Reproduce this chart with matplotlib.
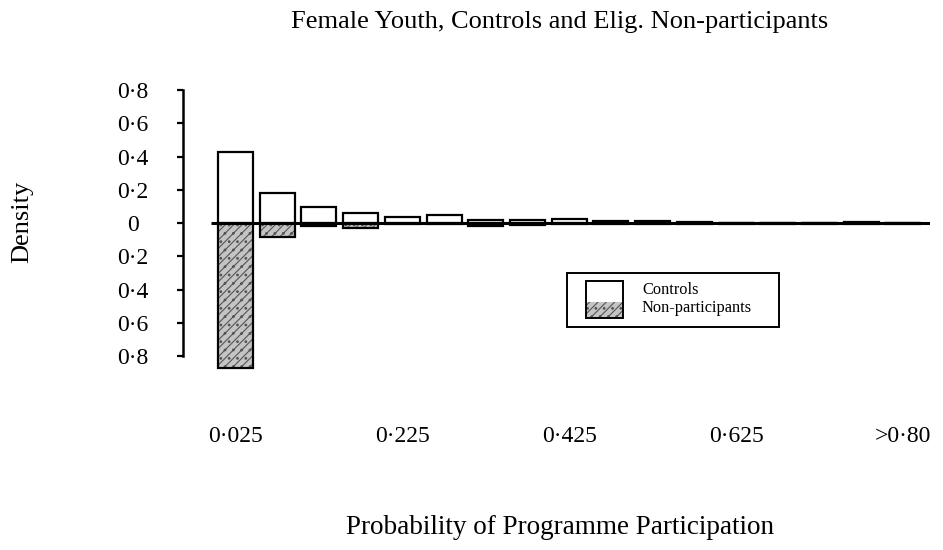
import matplotlib
matplotlib.use("Agg")
import matplotlib.pyplot as plt
import matplotlib.transforms as mtransforms
from matplotlib.patches import Rectangle
import numpy as np

# ---- data ----
bins = np.arange(17)  # 0.025, 0.075, ..., 0.775, >0.80
controls = [0.43, 0.18, 0.096, 0.06, 0.036, 0.048, 0.02, 0.018, 0.024,
            0.012, 0.012, 0.008, 0.004, 0.004, 0.003, 0.006, 0.003]
nonparticipants = [0.87, 0.085, 0.015, 0.03, 0.004, 0.004, 0.015, 0.01, 0.006,
                   0.005, 0.005, 0.004, 0.003, 0.003, 0.003, 0.003, 0.003]
xtick_pos = [0, 4, 8, 12, 16]
xtick_labels = ["0·025", "0·225", "0·425", "0·625", ">0·80"]
ytick_vals = [0.8, 0.6, 0.4, 0.2, 0, -0.2, -0.4, -0.6, -0.8]
ytick_labels = ["0·8", "0·6", "0·4", "0·2", "0", "0·2", "0·4", "0·6", "0·8"]

serif = ["Liberation Serif", "DejaVu Serif"]
plt.rcParams['font.family'] = serif
plt.rcParams['hatch.linewidth'] = 0.8

W, H = 943, 550
fig = plt.figure(figsize=(W / 100, H / 100), dpi=100)

def px(x0, y0, x1, y1):
    return [x0 / W, 1 - y1 / H, (x1 - x0) / W, (y1 - y0) / H]

ax = fig.add_axes(px(183, 90, 930, 373))
ax.set_xlim(-1.26, 16.65)
ax.set_ylim(-0.9, 0.8)

width = 0.84
neg = [-v for v in nonparticipants]
HATCH_FC = "#c4c4c4"
HATCH_EC = "#555555"
# Non-participants: hatched grey fill then black outline
ax.bar(bins, neg, width=width, color=HATCH_FC, edgecolor=HATCH_EC,
       hatch="////..", linewidth=0, zorder=2)
ax.bar(bins, neg, width=width, fill=False, edgecolor="black",
       linewidth=1.6, zorder=3)
# Controls
ax.bar(bins, controls, width=width, color="white", edgecolor="black",
       linewidth=1.6, zorder=3)
# zero line
ax.hlines(0, -0.6, 16.65, color="black", linewidth=2.2, zorder=4)

for s in ["top", "right", "bottom"]:
    ax.spines[s].set_visible(False)
ax.spines["left"].set_linewidth(1.8)
ax.spines["left"].set_bounds(-0.8, 0.8)

ax.set_yticks(ytick_vals)
ax.set_yticklabels(ytick_labels, fontsize=17)
ax.tick_params(axis="y", direction="out", length=4, width=1.6, pad=32)
for lab in ax.get_yticklabels():
    lab.set_horizontalalignment("center")

ax.set_xticks([])
tr = mtransforms.blended_transform_factory(ax.transData, fig.transFigure)
for p, t in zip(xtick_pos, xtick_labels):
    ax.text(p, 1 - 437 / H, t, transform=tr, ha="center", va="center",
            fontsize=17)

fig.text(560 / W, 1 - 22 / H, "Female Youth, Controls and Elig. Non-participants",
         ha="center", va="center", fontsize=19)
fig.text(560 / W, 1 - 528 / H, "Probability of Programme Participation",
         ha="center", va="center", fontsize=19.5)
fig.text(22 / W, 1 - 222 / H, "Density", rotation=90,
         ha="center", va="center", fontsize=19)

# legend box
lx0, ly0, lx1, ly1 = 567, 273, 779, 327
fig.patches.append(Rectangle((lx0 / W, 1 - ly1 / H), (lx1 - lx0) / W, (ly1 - ly0) / H,
                             transform=fig.transFigure, fill=False,
                             edgecolor="black", linewidth=1.4))
fig.patches.append(Rectangle((586 / W, 1 - 318 / H), 37 / W, 16 / H,
                             transform=fig.transFigure, facecolor=HATCH_FC,
                             edgecolor=HATCH_EC, hatch="////..", linewidth=0))
fig.patches.append(Rectangle((586 / W, 1 - 302 / H), 37 / W, 21 / H,
                             transform=fig.transFigure, facecolor="white",
                             edgecolor="none"))
fig.patches.append(Rectangle((586 / W, 1 - 318 / H), 37 / W, 37 / H,
                             transform=fig.transFigure, fill=False,
                             edgecolor="black", linewidth=1.4))
fig.text(642 / W, 1 - 290 / H, "Controls", ha="left", va="center", fontsize=11.8)
fig.text(642 / W, 1 - 308 / H, "Non-participants", ha="left", va="center", fontsize=11.8)

fig.savefig("out.png", dpi=100)
